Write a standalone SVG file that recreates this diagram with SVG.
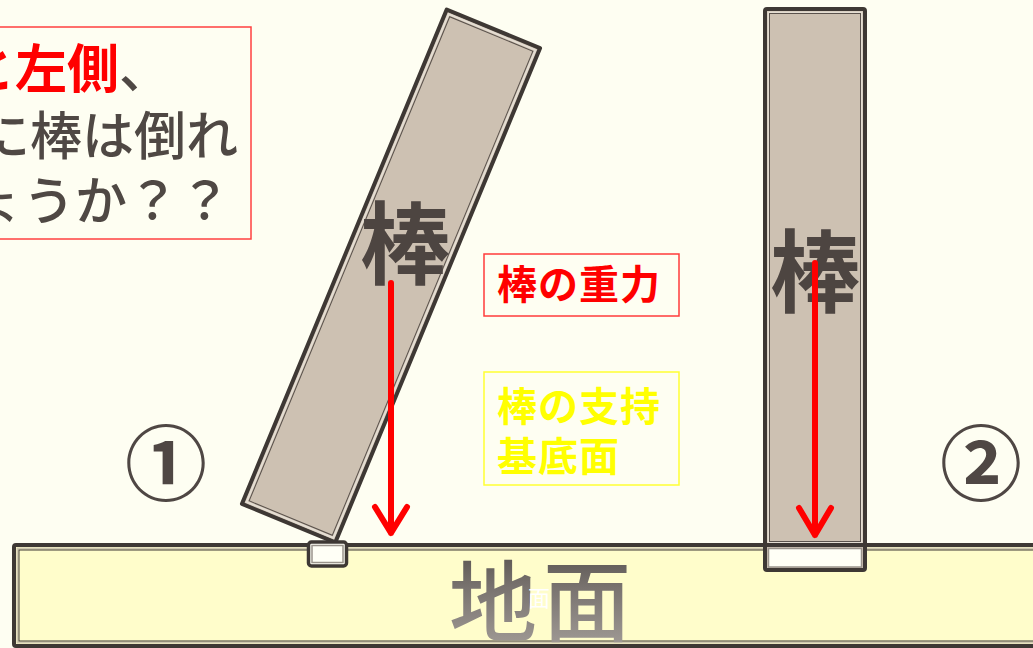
<svg xmlns="http://www.w3.org/2000/svg" width="1033" height="648" viewBox="0 0 1033 648">
<defs>
<style>
.jp{font-family:"Noto Sans CJK JP","Noto Sans CJK SC",sans-serif}
.rod{fill:#CDC1B2;stroke:#3E3834;stroke-width:4;stroke-linejoin:round}
.rodin{fill:none;stroke:#5A524C;stroke-width:1}
.rodmid{fill:none;stroke:#E4DDD2;stroke-width:2}
.arrow{fill:none;stroke:#FF0000;stroke-width:6;stroke-linecap:round;stroke-linejoin:round}
.rodlabel{font-size:90px;font-weight:bold;fill:#4D4541;text-anchor:middle}
.circ{font-size:82px;font-weight:bold;fill:#4F4744;text-anchor:middle}
</style>
<linearGradient id="gnd" x1="0" y1="0" x2="0" y2="1">
<stop offset="0" stop-color="#4A4542"/>
<stop offset="0.45" stop-color="#7A7470"/>
<stop offset="1" stop-color="#A8A29D"/>
</linearGradient>
</defs>
<rect x="0" y="0" width="1033" height="648" fill="#FEFEF2"/>

<g id="question">
<rect x="-200" y="27" width="451" height="212" fill="none" stroke="#FF4040" stroke-width="1.5"/>
<text class="jp" font-size="52" x="-37" y="88"><tspan fill="#FF0000" font-weight="bold">と左側</tspan><tspan fill="#4F4844" font-weight="500">、</tspan></text>
<text class="jp" font-size="52" font-weight="500" x="-22" y="155" fill="#4F4844">に棒は倒れ</text>
<text class="jp" font-size="52" font-weight="500" x="-29" y="220" fill="#4F4844">ょうか？？</text>
</g>

<g id="ground">
<rect x="14" y="545" width="1040" height="101" fill="#FFFDCB" stroke="#3E3834" stroke-width="4" rx="2"/>
<rect x="17.5" y="548.5" width="1040" height="94" fill="none" stroke="#CFC8B0" stroke-width="2"/>
<rect x="19" y="550" width="1040" height="91" fill="none" stroke="#3E3834" stroke-width="1"/>
<text class="jp" x="449" y="634" font-size="88" font-weight="500" letter-spacing="6" fill="url(#gnd)">地面</text>
<text class="jp" x="528" y="606" font-size="22" fill="#FFFFFF">面</text>
</g>

<g id="rod1">
<g transform="translate(391,276) rotate(22.5)">
<rect class="rod" x="-50.5" y="-267.5" width="101" height="535"/>
<rect class="rodmid" x="-47" y="-264" width="94" height="528"/>
<rect class="rodin" x="-45" y="-262" width="90" height="524"/>
</g>
<text class="jp rodlabel" x="405" y="277">棒</text>
</g>

<g id="support1">
<rect x="308.5" y="542" width="38" height="24" rx="3" fill="#FFFFF6" stroke="#3E3834" stroke-width="3.5"/>
<rect x="312" y="545.5" width="31" height="17" fill="none" stroke="#9A948C" stroke-width="1.5"/>
</g>

<g id="rod2">
<rect class="rod" x="765" y="9" width="100" height="561" rx="2"/>
<rect class="rodmid" x="768.5" y="12.5" width="93" height="530"/>
<rect class="rodin" x="769.5" y="13.5" width="91" height="528"/>
<line x1="765" y1="545" x2="865" y2="545" stroke="#3E3834" stroke-width="4"/>
<rect x="768.5" y="548.5" width="93" height="18.5" fill="#FFFFF6" stroke="#9A948C" stroke-width="1.5"/>
<text class="jp rodlabel" x="815" y="305">棒</text>
</g>

<g id="label-gravity">
<rect x="484" y="254" width="195" height="62" fill="none" stroke="#FF3B3B" stroke-width="1.5"/>
<text class="jp" x="497" y="299" font-size="40" font-weight="bold" letter-spacing="1" fill="#FF0000">棒の重力</text>
</g>

<g id="label-base">
<rect x="484" y="372" width="195" height="113" fill="none" stroke="#FFFF33" stroke-width="1.5"/>
<text class="jp" x="497" y="421" font-size="40" font-weight="bold" letter-spacing="1" fill="#FFFF00">棒の支持</text>
<text class="jp" x="497" y="471" font-size="40" font-weight="bold" letter-spacing="1" fill="#FFFF00">基底面</text>
</g>

<g id="num1"><text class="jp circ" x="166" y="494">①</text></g>
<g id="num2"><text class="jp circ" x="981" y="494">②</text></g>

<g id="connectors">
<path class="arrow" d="M391 283 V533 M375 507 L391 533 L407 507"/>
<path class="arrow" d="M815 263 V535 M799 508 L815 535 L831 508"/>
</g>
</svg>
